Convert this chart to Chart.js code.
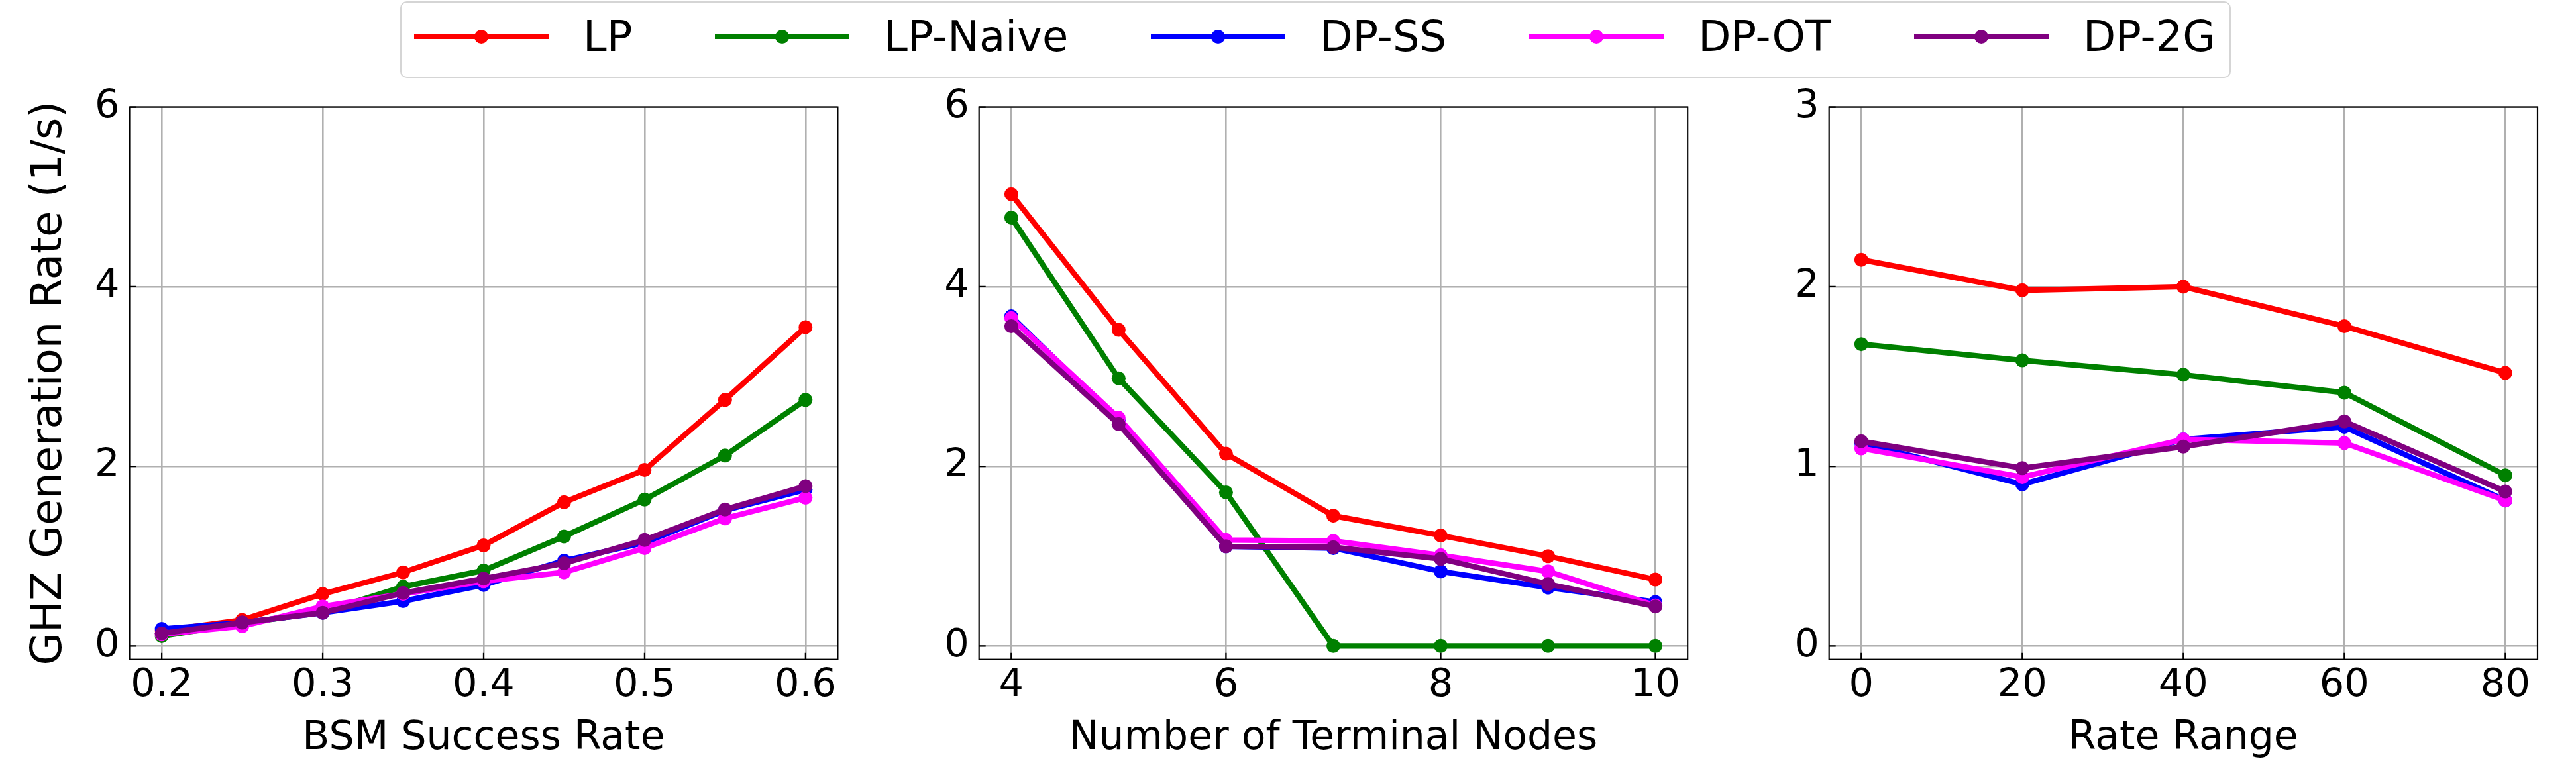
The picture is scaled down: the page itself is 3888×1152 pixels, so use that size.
<!DOCTYPE html>
<html>
<head>
<meta charset="utf-8">
<script src="https://cdn.jsdelivr.net/npm/chart.js@4.4.1/dist/chart.umd.min.js"></script>
<style>
  html, body { margin: 0; padding: 0; background: #fff; }
  #fig { position: relative; width: 3888px; height: 1152px; overflow: hidden; font-family: "DejaVu Sans"; }
  #fig canvas { position: absolute; top: 110px; }
  #legend {
    position: absolute; left: 604px; top: 2px; height: 116px; box-sizing: border-box;
    border: 2.5px solid #d5d5d5; border-radius: 10px; background: #fff;
    display: flex; align-items: center; padding: 0 21px 10px 19px;
    font-size: 64px; color: #000; white-space: nowrap; z-index: 5;
  }
  .item { display: flex; align-items: center; }
  .item + .item { margin-left: 125px; }
  .swatch { position: relative; width: 203px; height: 8.3px; margin-right: 52px; }
  .swatch span { position: absolute; left: 91px; top: -6.2px; width: 21px; height: 21px; border-radius: 50%; }
</style>
</head>
<body>
<div id="fig">
  <div id="legend"></div>
  <canvas id="c1" width="1340" height="1042" style="left:0px"></canvas>
  <canvas id="c2" width="1330" height="1042" style="left:1300px"></canvas>
  <canvas id="c3" width="1308" height="1042" style="left:2580px"></canvas>
</div>
<script>
const methods = ["LP", "LP-Naive", "DP-SS", "DP-OT", "DP-2G"];
const colors = ["#ff0000", "#008000", "#0000ff", "#ff00ff", "#800080"];

// panel 1: BSM success rate
const bsmRates = [0.2, 0.25, 0.3, 0.35, 0.4, 0.45, 0.5, 0.55, 0.6];
const bsmLP = [0.17, 0.29, 0.58, 0.82, 1.12, 1.60, 1.96, 2.74, 3.55];
const bsmLPNaive = [0.11, 0.25, 0.38, 0.66, 0.84, 1.22, 1.63, 2.12, 2.74];
const bsmDPSS = [0.19, 0.26, 0.37, 0.50, 0.68, 0.95, 1.15, 1.51, 1.74];
const bsmDPOT = [0.13, 0.22, 0.44, 0.58, 0.72, 0.82, 1.09, 1.42, 1.65];
const bsmDP2G = [0.14, 0.26, 0.37, 0.59, 0.75, 0.92, 1.18, 1.52, 1.78];
const bsmTicks = [0.2, 0.3, 0.4, 0.5, 0.6];

// panel 2: number of terminal nodes
const terminalNodes = [4, 5, 6, 7, 8, 9, 10];
const nodesLP = [5.03, 3.52, 2.14, 1.45, 1.23, 1.00, 0.74];
const nodesLPNaive = [4.77, 2.98, 1.71, 0, 0, 0, 0];
const nodesDPSS = [3.67, 2.51, 1.11, 1.09, 0.83, 0.65, 0.49];
const nodesDPOT = [3.65, 2.54, 1.18, 1.17, 1.01, 0.83, 0.45];
const nodesDP2G = [3.56, 2.47, 1.11, 1.10, 0.97, 0.69, 0.44];
const nodesTicks = [4, 6, 8, 10];

// panel 3: rate range
const rateRanges = [0, 20, 40, 60, 80];
const rangeLP = [2.15, 1.98, 2.00, 1.78, 1.52];
const rangeLPNaive = [1.68, 1.59, 1.51, 1.41, 0.95];
const rangeDPSS = [1.13, 0.90, 1.15, 1.22, 0.81];
const rangeDPOT = [1.10, 0.94, 1.15, 1.13, 0.81];
const rangeDP2G = [1.14, 0.99, 1.11, 1.25, 0.86];
const rangeTicks = [0, 20, 40, 60, 80];

const yTicks6 = [0, 2, 4, 6];
const yTicks3 = [0, 1, 2, 3];

Chart.defaults.font.family = "DejaVu Sans";
Chart.defaults.color = "#000";

// legend
const legend = document.getElementById("legend");
methods.forEach((m, i) => {
  const item = document.createElement("div");
  item.className = "item";
  item.innerHTML = '<div class="swatch" style="background:' + colors[i] + '"><span style="background:' +
    colors[i] + '"></span></div><div>' + m + "</div>";
  legend.appendChild(item);
});

// spines all round and inward tick marks, like matplotlib
const frame = {
  id: "frame",
  afterDatasetsDraw(chart) {
    const { ctx, chartArea: a, scales: { x, y } } = chart;
    ctx.save();
    ctx.strokeStyle = "#000";
    ctx.lineWidth = 2.2;
    ctx.beginPath();
    x.ticks.forEach((t) => {
      const px = x.getPixelForValue(t.value);
      ctx.moveTo(px, a.bottom);
      ctx.lineTo(px, a.bottom - 10);
    });
    y.ticks.forEach((t) => {
      const py = y.getPixelForValue(t.value);
      ctx.moveTo(a.left, py);
      ctx.lineTo(a.left + 10, py);
    });
    ctx.stroke();
    ctx.strokeRect(a.left, a.top, a.right - a.left, a.bottom - a.top);
    ctx.restore();
  },
};

function makePanel(id, xs, series, xRange, xTicks, yRange, yTicks, xTitle, yTitle, yWidth, padRight) {
  const datasets = series.map((vals, i) => ({
    label: methods[i],
    data: xs.map((x, j) => ({ x: x, y: vals[j] })),
    borderColor: colors[i],
    backgroundColor: colors[i],
    pointBackgroundColor: colors[i],
    borderWidth: 8.3,
    pointRadius: 10.5,
    pointBorderWidth: 0,
    tension: 0,
    order: methods.length - i,
    clip: false,
  }));

  return new Chart(document.getElementById(id), {
    type: "line",
    data: { datasets: datasets },
    plugins: [frame],
    options: {
      responsive: false,
      animation: false,
      layout: { padding: { top: 51.6, right: padRight, bottom: 0, left: 0 } },
      plugins: { legend: { display: false }, tooltip: { enabled: false } },
      scales: {
        x: {
          type: "linear",
          min: xRange[0],
          max: xRange[1],
          afterBuildTicks: (s) => { s.ticks = xTicks.map((v) => ({ value: v })); },
          afterFit: (s) => { s.height = 156.3; },
          grid: { color: "#b0b0b0", lineWidth: 2.6, drawTicks: false },
          border: { display: false },
          ticks: { font: { size: 59 }, padding: 5, maxRotation: 0, callback: (v) => String(v) },
          title: { display: true, text: xTitle, font: { size: 60 }, padding: { top: 0, bottom: 1 } },
        },
        y: {
          type: "linear",
          min: yRange[0],
          max: yRange[1],
          afterBuildTicks: (s) => { s.ticks = yTicks.map((v) => ({ value: v })); },
          afterFit: (s) => { s.width = yWidth; },
          grid: { color: "#b0b0b0", lineWidth: 2.6, drawTicks: false },
          border: { display: false },
          ticks: { font: { size: 59 }, padding: 15, callback: (v) => String(v) },
          title: { display: !!yTitle, text: yTitle, font: { size: 64 }, padding: { top: 36.6, bottom: 0 } },
        },
      },
    },
  });
}

// chart areas: x 195.5-1264.4, 1477.7-2547.2, 2760.7-3830; y 161.6-995.7
makePanel("c1", bsmRates, [bsmLP, bsmLPNaive, bsmDPSS, bsmDPOT, bsmDP2G],
  [0.18, 0.62], bsmTicks, [-0.15, 6], yTicks6, "BSM Success Rate", "GHZ Generation Rate (1/s)", 195.5, 75.6);
makePanel("c2", terminalNodes, [nodesLP, nodesLPNaive, nodesDPSS, nodesDPOT, nodesDP2G],
  [3.7, 10.3], nodesTicks, [-0.15, 6], yTicks6, "Number of Terminal Nodes", "", 177.7, 82.8);
makePanel("c3", rateRanges, [rangeLP, rangeLPNaive, rangeDPSS, rangeDPOT, rangeDP2G],
  [-4, 84], rangeTicks, [-0.075, 3], yTicks3, "Rate Range", "", 180.7, 58);
</script>
</body>
</html>
